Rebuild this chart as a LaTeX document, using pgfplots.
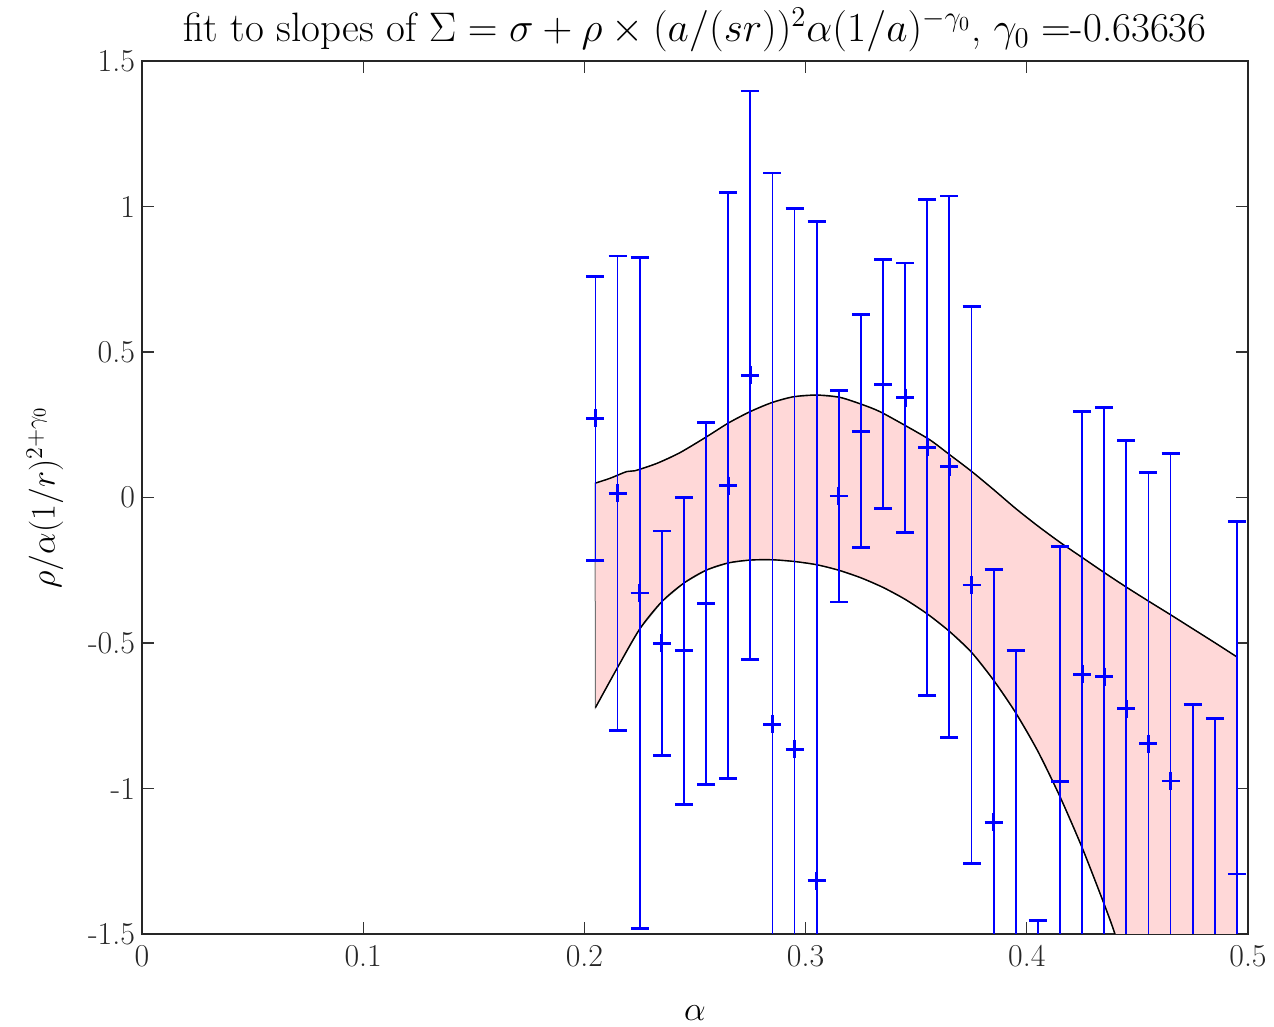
\documentclass[border=0pt]{standalone}
\usepackage{pgfplots}
\pgfplotsset{compat=1.18}
\usepackage{pgfplotstable}
\usetikzlibrary{calc}

\definecolor{bandfill}{RGB}{255,216,216}

% slope estimates with their 1-sigma errors
\pgfplotstableread{
x      y       e
0.205  0.272   0.488
0.215  0.014   0.816
0.225 -0.328   1.153
0.235 -0.501   0.386
0.245 -0.527   0.527
0.255 -0.364   0.623
0.265  0.041   1.007
0.275  0.420   0.977
0.285 -0.779   1.894
0.295 -0.865   1.857
0.305 -1.317   2.266
0.315  0.005   0.364
0.325  0.228   0.400
0.335  0.389   0.428
0.345  0.343   0.463
0.355  0.172   0.853
0.365  0.106   0.930
0.375 -0.301   0.958
0.385 -1.116   0.869
0.395 -1.750   1.223
0.405 -2.350   0.895
0.415 -0.977   0.808
0.425 -0.607   0.903
0.435 -0.616   0.924
0.445 -0.726   0.921
0.455 -0.846   0.932
0.465 -0.974   1.126
0.475 -1.700   0.989
0.485 -1.750   0.990
0.495 -1.294   1.212
}\slopes

% upper edge of the fitted band
\pgfplotstableread{
x       y
0.2048  0.049
0.2116  0.066
0.2191  0.089
0.2229  0.092
0.2327  0.117
0.2432  0.154
0.2553  0.209
0.2651  0.256
0.2749  0.295
0.2847  0.326
0.2944  0.346
0.3050  0.352
0.3156  0.344
0.3261  0.318
0.3336  0.295
0.3449  0.248
0.3562  0.198
0.3653  0.146
0.375   0.090
0.385   0.027
0.395  -0.038
0.405  -0.098
0.415  -0.154
0.425  -0.206
0.435  -0.258
0.445  -0.308
0.455  -0.356
0.465  -0.403
0.475  -0.451
0.485  -0.499
0.495  -0.548
}\upperband

% lower edge of the fitted band
\pgfplotstableread{
x       y
0.205  -0.722
0.215  -0.584
0.225  -0.452
0.235  -0.358
0.245  -0.294
0.255  -0.250
0.265  -0.225
0.275  -0.215
0.285  -0.214
0.295  -0.220
0.305  -0.231
0.315  -0.250
0.325  -0.276
0.335  -0.309
0.345  -0.350
0.355  -0.400
0.365  -0.460
0.375  -0.532
0.385  -0.628
0.395  -0.740
0.405  -0.872
0.415  -1.028
0.425  -1.203
0.435  -1.398
0.440  -1.503
0.450  -1.740
0.470  -2.300
0.495  -3.050
}\lowerband

\begin{document}
\begin{tikzpicture}
\begin{axis}[
  scale only axis,
  width=553bp, height=436.5bp,
  xmin=0, xmax=0.5, ymin=-1.5, ymax=1.5,
  xtick={0,0.1,0.2,0.3,0.4,0.5},
  xticklabels={0,0.1,0.2,0.3,0.4,0.5},
  ytick={-1.5,-1,-0.5,0,0.5,1,1.5},
  yticklabels={-1.5,-1,-0.5,0,0.5,1,1.5},
  tick align=inside,
  major tick length=6bp,
  axis line style={line width=0.7bp, black!85},
  tick style={line width=0.6bp, black!80},
  every tick label/.append style={font=\fontsize{16}{19}\selectfont, black!85},
  xticklabel style={yshift=-2bp},
  title={fit to slopes of $\Sigma=\sigma+\rho\times(a/(sr))^2\alpha(1/a)^{-\gamma_0}$, $\gamma_0=$-0.63636},
  every axis title/.style={at={(axis description cs:0.5,1.0355)}, anchor=center, font=\fontsize{20.6}{24}\selectfont},
  xlabel={$\alpha$},
  ylabel={$\rho/\alpha(1/r)^{2+\gamma_0}$},
  every axis x label/.style={at={(axis description cs:0.5,-0.0905)}, anchor=center, font=\fontsize{18}{22}\selectfont},
  every axis y label/.style={at={(axis description cs:-0.0877,0.5)}, rotate=90, anchor=center, font=\fontsize{18.5}{22}\selectfont},
]
  % shaded band: upper edge left to right, lower edge right to left
  \addplot[fill=bandfill, draw=black!55, line width=0.5bp] coordinates {
    (0.2048,0.049) (0.2116,0.066) (0.2191,0.089) (0.2229,0.092) (0.2327,0.117)
    (0.2432,0.154) (0.2553,0.209) (0.2651,0.256) (0.2749,0.295) (0.2847,0.326)
    (0.2944,0.346) (0.3050,0.352) (0.3156,0.344) (0.3261,0.318) (0.3336,0.295)
    (0.3449,0.248) (0.3562,0.198) (0.3653,0.146) (0.375,0.090) (0.385,0.027)
    (0.395,-0.038) (0.405,-0.098) (0.415,-0.154) (0.425,-0.206) (0.435,-0.258)
    (0.445,-0.308) (0.455,-0.356) (0.465,-0.403) (0.475,-0.451) (0.485,-0.499)
    (0.495,-0.548)
    (0.495,-3.050) (0.470,-2.300) (0.450,-1.740) (0.440,-1.503) (0.435,-1.398)
    (0.425,-1.203) (0.415,-1.028) (0.405,-0.872) (0.395,-0.740) (0.385,-0.628)
    (0.375,-0.532) (0.365,-0.460) (0.355,-0.400) (0.345,-0.350) (0.335,-0.309)
    (0.325,-0.276) (0.315,-0.250) (0.305,-0.231) (0.295,-0.220) (0.285,-0.214)
    (0.275,-0.215) (0.265,-0.225) (0.255,-0.250) (0.245,-0.294) (0.235,-0.358)
    (0.225,-0.452) (0.215,-0.584) (0.205,-0.722)
  } -- cycle;
  % the two fitted curves
  \addplot[black, line width=0.7bp, smooth, tension=0.5] table[x=x, y=y] {\upperband};
  \addplot[black, line width=0.7bp, smooth, tension=0.5] table[x=x, y=y] {\lowerband};
  % measured slopes with error bars
  \addplot[blue, only marks, mark=+, mark size=4.5bp, mark options={line width=1.4bp},
    error bars/.cd, y dir=both, y explicit,
    error bar style={line width=0.9bp, blue},
    error mark options={rotate=90, line width=1.4bp, mark size=4.5bp, blue}]
    table[x=x, y=y, y error=e] {\slopes};
\end{axis}
\pgfresetboundingbox
\path ($(current axis.south west)+(-71bp,-46.5bp)$) rectangle ($(current axis.north east)+(13bp,30.5bp)$);
\end{tikzpicture}
\end{document}
